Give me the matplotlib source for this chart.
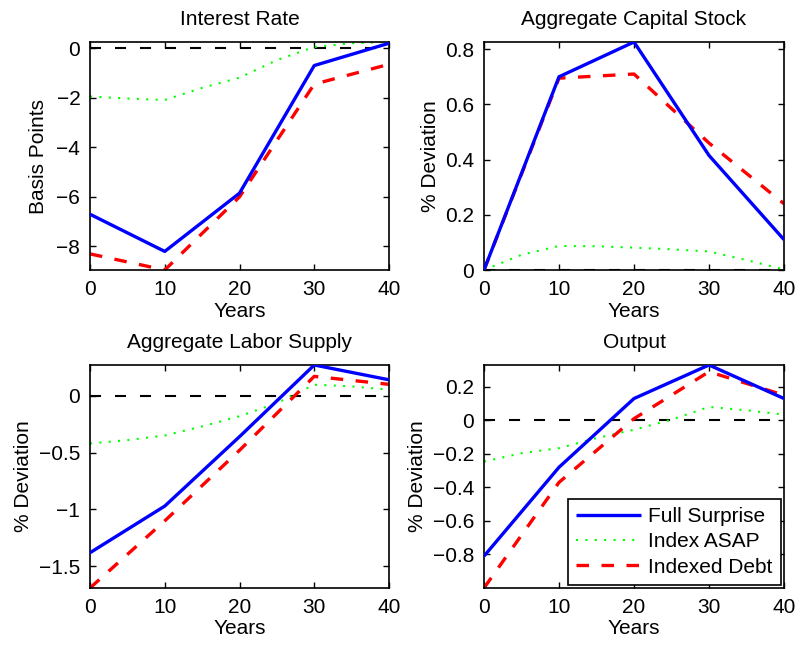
import matplotlib
matplotlib.use("Agg")
import matplotlib.pyplot as plt
import numpy as np

plt.rcParams['font.family'] = ['Liberation Sans', 'DejaVu Sans']
plt.rcParams['font.size'] = 15

years = [0, 10, 20, 30, 40]
years_fine = [0, 5, 10, 15, 20, 25, 30, 35, 40]

# Interest Rate (basis points)
ir_full = [-6.7, -8.2, -5.85, -0.7, 0.2]
ir_indexed = [-8.3, -8.95, -6.0, -1.45, -0.65]
ir_asap = [-1.95, -2.03, -2.09, -1.6, -1.19, -0.48, 0.05, 0.2, 0.25]

# Aggregate Capital Stock (% deviation)
k_full = [0.0, 0.70, 0.826, 0.415, 0.11]
k_indexed = [0.0, 0.695, 0.71, 0.46, 0.24]
k_asap = [0.0, 0.055, 0.087, 0.086, 0.081, 0.075, 0.067, 0.036, 0.002]

# Aggregate Labor Supply (% deviation)
l_full = [-1.38, -0.97, -0.36, 0.27, 0.14]
l_indexed = [-1.69, -1.1, -0.48, 0.17, 0.10]
l_asap = [-0.42, -0.39, -0.35, -0.27, -0.18, -0.065, 0.097, 0.082, 0.053]

# Output (% deviation)
y_full = [-0.81, -0.28, 0.13, 0.33, 0.13]
y_indexed = [-1.0, -0.37, 0.01, 0.29, 0.15]
y_asap = [-0.246, -0.196, -0.166, -0.106, -0.056, 0.004, 0.08, 0.06, 0.034]

titles = ["Interest Rate", "Aggregate Capital Stock", "Aggregate Labor Supply", "Output"]
ylabels = ["Basis Points", "% Deviation", "% Deviation", "% Deviation"]
yticks = [[-8, -6, -4, -2, 0], [0, 0.2, 0.4, 0.6, 0.8],
          [-1.5, -1, -0.5, 0], [-0.8, -0.6, -0.4, -0.2, 0, 0.2]]
xticks = [0, 10, 20, 30, 40]
legend_labels = ["Full Surprise", "Index ASAP", "Indexed Debt"]

W, H = 797, 645
fig = plt.figure(figsize=(W / 100, H / 100), dpi=100)
boxes = [(90, 42, 389, 270), (484, 42, 784, 270), (90, 365, 389, 588), (484, 365, 784, 588)]

data = [(ir_full, ir_asap, ir_indexed), (k_full, k_asap, k_indexed),
        (l_full, l_asap, l_indexed), (y_full, y_asap, y_indexed)]

def fmt(v):
    s = "%g" % v
    return s.replace("-", "\u2212")

for i, (box, (full, asap, idx)) in enumerate(zip(boxes, data)):
    x0, y0, x1, y1 = box
    ax = fig.add_axes([x0 / W, 1 - y1 / H, (x1 - x0) / W, (y1 - y0) / H])
    ax.axhline(0, color='black', lw=1.5, linestyle=(0, (5.3, 6.7)), zorder=1)
    h1, = ax.plot(years, full, color=(0, 0, 1), lw=2.4, solid_capstyle='butt', zorder=3)
    h2, = ax.plot(years_fine, asap, color=(0, 1, 0), lw=1.5, linestyle=(0, (1, 3.5)), zorder=2)
    h3, = ax.plot(years, idx, color=(1, 0, 0), lw=2.4, linestyle=(0, (3.75, 3.75)), zorder=2.5)
    allv = list(full) + list(asap) + list(idx) + [0]
    ax.set_ylim(min(allv), max(allv))
    ax.set_xlim(0, 40)
    ax.set_xticks(xticks)
    ax.set_xticklabels([fmt(v) for v in xticks])
    ax.set_yticks(yticks[i])
    ax.set_yticklabels([fmt(v) for v in yticks[i]])
    ax.tick_params(direction='in', length=4, width=1, top=True, right=True, pad=7, labelsize=15)
    for sp in ax.spines.values():
        sp.set_linewidth(1.2)
    ax.set_title(titles[i], fontsize=15, pad=12)
    ax.set_xlabel("Years", fontsize=15, labelpad=2)
    ax.set_ylabel(ylabels[i], fontsize=15, labelpad=6 if i == 0 else 4)
    if i == 3:
        leg = ax.legend([h1, h2, h3], legend_labels, loc='lower right', fancybox=False,
                        edgecolor='black', framealpha=1, fontsize=15, handlelength=3.1,
                        handletextpad=0.35, labelspacing=0.3, borderpad=0.4,
                        borderaxespad=0.15)
        leg.get_frame().set_linewidth(1.2)

fig.savefig("out.png", dpi=100)
